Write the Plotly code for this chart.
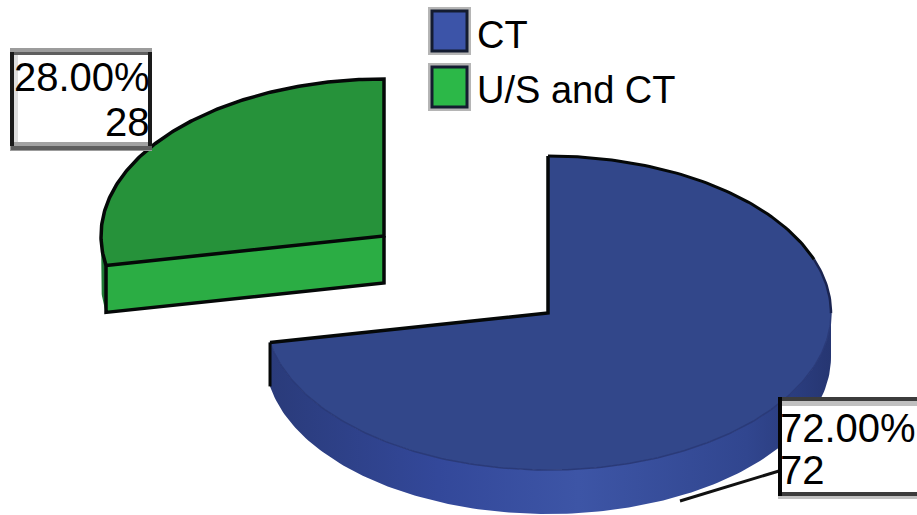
import numpy as np
import plotly.graph_objects as go

# Survey split shown by the pie
categories = ["CT", "U/S and CT"]
counts = [72, 28]

FONT = "Liberation Sans, Arial, sans-serif"
W, H = 917, 515
RX, RY = 283, 157      # ellipse radii of the tilted disc
DEPTH_CT, DEPTH_US = 44, 47

total = sum(counts)
sweep = [360.0 * c / total for c in counts]


def arc(cx, cy, start, stop, dy=0.0, n=160):
    """Points along the tilted circle, angle clockwise from 12 o'clock."""
    t = np.radians(np.linspace(start, stop, n))
    return cx + RX * np.sin(t), cy - RY * np.cos(t) + dy


def poly(fig, x, y, color=None, gradient=None):
    kw = dict(fillgradient=gradient) if gradient else dict(fillcolor=color)
    fig.add_trace(go.Scatter(x=np.r_[x, x[0]], y=np.r_[y, y[0]], mode="lines", fill="toself",
                             line=dict(width=0), hoverinfo="skip", showlegend=False, **kw))


def stroke(fig, x, y, color="#050808", width=3.5):
    fig.add_trace(go.Scatter(x=x, y=y, mode="lines", hoverinfo="skip", showlegend=False,
                             line=dict(color=color, width=width)))


fig = go.Figure()

# CT slice: starts at 12 o'clock, runs clockwise
cx, cy = 548, 313
a_end = sweep[0]
top_x, top_y = arc(cx, cy, 0, a_end, n=260)
side_x, side_y = arc(cx, cy, 90, a_end)
low_x, low_y = arc(cx, cy, 90, a_end, dy=DEPTH_CT)
poly(fig, np.r_[side_x, low_x[::-1]], np.r_[side_y, low_y[::-1]],
     gradient=dict(type="horizontal",
                   colorscale=[[0, "#2a3b7a"], [0.3, "#33489a"], [0.55, "#3d55a6"],
                               [0.85, "#31468f"], [1, "#263672"]]))
poly(fig, np.r_[cx, top_x], np.r_[cy, top_y], color="#32478a")
# The rim outline fades from black on the far side to navy on the near side
k1, k2 = 70, 90
stroke(fig, top_x[k2:], top_y[k2:], color="#2a3a78", width=1.5)
stroke(fig, top_x[k1:k2 + 1], top_y[k1:k2 + 1], color="#1a2450", width=2.5)
stroke(fig, top_x[:k1 + 1], top_y[:k1 + 1], width=3)
stroke(fig, [top_x[-1], cx, cx], [top_y[-1], cy, top_y[0]])
stroke(fig, [top_x[-1], top_x[-1]], [top_y[-1], low_y[-1]], width=3)

# U/S and CT slice, pulled out to the upper left
cx2, cy2 = 384, 236
g_x, g_y = arc(cx2, cy2, a_end, 360)
edge_x, edge_y = arc(cx2, cy2, a_end, 270, n=20)
edge_lx, edge_ly = arc(cx2, cy2, a_end, 270, dy=DEPTH_US, n=20)
poly(fig, np.r_[edge_x, edge_lx[::-1]], np.r_[edge_y, edge_ly[::-1]], color="#1f7a35")
poly(fig, np.r_[edge_x[0], cx2, cx2, edge_lx[0]],
     np.r_[edge_y[0], cy2, cy2 + DEPTH_US, edge_ly[0]], color="#2bad44")
poly(fig, np.r_[cx2, g_x], np.r_[cy2, g_y], color="#26923a")
stroke(fig, np.r_[g_x, cx2, g_x[0]], np.r_[g_y, cy2, g_y[0]])
stroke(fig, [g_x[0], edge_lx[0], cx2, cx2], [g_y[0], edge_ly[0], cy2 + DEPTH_US, cy2])


def rect(x0, y0, x1, y1, fill=None, line=None, width=0):
    return dict(type="rect", xref="x", yref="y", x0=x0, y0=y0, x1=x1, y1=y1, layer="above",
                fillcolor=fill or "rgba(0,0,0,0)", line=dict(color=line or "rgba(0,0,0,0)", width=width))


# Legend swatches with their bevelled frames
swatches = [(10, "#3c54a8"), (66, "#2cb848")]
shapes = []
for top, colour in swatches:
    shapes += [rect(428, top - 3, 471, top + 45, "#b5b5b5"),
               rect(432, top + 1, 467, top + 41, colour, "#141c30", 3)]

# Value callouts
shapes += [
    dict(type="line", xref="x", yref="y", x0=680, y0=501, x1=779, y1=471, layer="above",
         line=dict(color="#111111", width=3)),
    rect(10, 48, 152, 151, "#9c9c9c"),
    rect(11, 52, 152, 150, "#5e5e5e"),
    rect(14, 55, 148, 142, "white"),
    rect(14, 55, 18, 142, "#dedede"),
    rect(10, 52, 14, 146, "#1a1a1a"),
    rect(148, 52, 152, 146, "#1a1a1a"),
    rect(14, 142, 148, 146, "#a2a2a2"),
    rect(778, 397, 917, 499, "#c0c0c0"),
    rect(778, 397, 917, 401, "#3c3c3c"),
    rect(782, 406, 917, 492, "white"),
    rect(778, 397, 782, 496, "#050505"),
    rect(782, 492, 917, 496, "#3c3c3c"),
]

annotations = []
for top, name in zip([35, 90], categories):
    annotations.append(dict(x=475, y=top, text=name, xanchor="left", yanchor="middle",
                            showarrow=False, font=dict(family=FONT, size=38, color="black")))

labels = [(f"{counts[1]:.2f}%", 151, 77, "right"), (f"{counts[1]}", 151, 122, "right"),
          (f"{counts[0]:.2f}%", 779, 428, "left"), (f"{counts[0]}", 779, 470, "left")]
for text, x, y, anchor in labels:
    annotations.append(dict(x=x, y=y, text=text, xanchor=anchor, yanchor="middle", showarrow=False,
                            font=dict(family=FONT, size=40, color="black"),
                            borderpad=0))

fig.update_layout(
    width=W, height=H, margin=dict(l=0, r=0, t=0, b=0),
    paper_bgcolor="white", plot_bgcolor="white", showlegend=False,
    xaxis=dict(range=[0, W], visible=False, fixedrange=True),
    yaxis=dict(range=[H, 0], visible=False, fixedrange=True),
    shapes=shapes, annotations=annotations,
)
fig.write_html("out.html", config=dict(displayModeBar=False))
